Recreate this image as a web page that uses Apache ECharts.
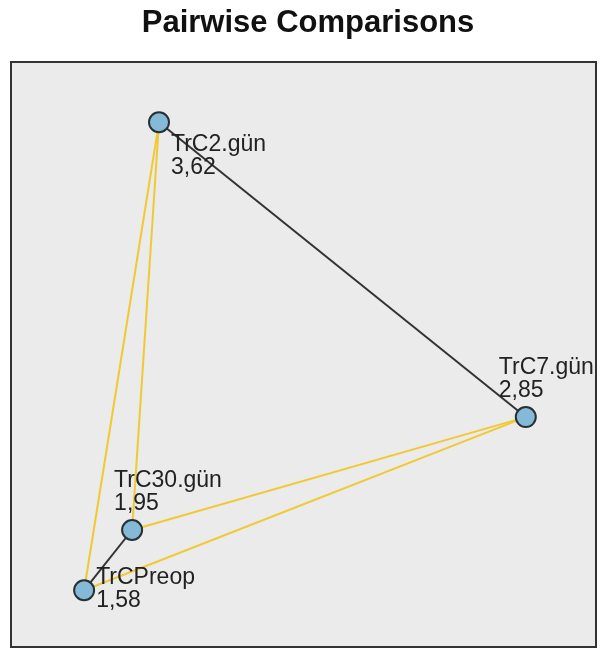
<!DOCTYPE html>
<html>
<head>
<meta charset="utf-8">
<script src="https://cdn.jsdelivr.net/npm/echarts@6/dist/echarts.min.js"></script>
<style>
  html, body { margin: 0; padding: 0; background: #fff; }
  #chart { width: 600px; height: 651px; }
</style>
</head>
<body>
<div id="chart"></div>
<script>
// nodes of the pairwise comparison graph (layout units 0..100)
const nodeNames = ["TrC2.gün", "TrC7.gün", "TrC30.gün", "TrCPreop"];
const meanRanks = [3.62, 2.85, 1.95, 1.58];
const nodeX = [25.3, 88.0, 20.7, 12.5];
const nodeY = [89.7, 39.3, 20.0, 9.7];

// edges: [source, target, significant]
const pairSources = [0, 2, 0, 0, 1, 1];
const pairTargets = [1, 3, 2, 3, 2, 3];
const pairSignificant = [false, false, true, true, true, true];

// label placement relative to symbol box (style only)
const labelPos = [[23, 22], [-16, -50], [-7, -50], [23, -13]];

const chart = echarts.init(document.getElementById("chart"));

let nodes = [];
for (let i = 0; i < nodeNames.length; i++) {
  nodes.push({
    name: nodeNames[i],
    value: [nodeX[i], nodeY[i]],
    rank: meanRanks[i],
    label: { position: labelPos[i] },
  });
}

let links = [];
for (let i = 0; i < pairSources.length; i++) {
  links.push({
    source: pairSources[i],
    target: pairTargets[i],
    lineStyle: {
      color: pairSignificant[i] ? "#f0c933" : "#333333",
      width: 2,
      opacity: 1,
    },
  });
}

const option = {
  animation: false,
  title: {
    text: "Pairwise Comparisons",
    left: 303,
    textAlign: "center",
    top: 3,
    textStyle: {
      fontFamily: "Liberation Sans",
      fontWeight: "bold",
      fontSize: 31,
      color: "#111",
    },
  },
  grid: {
    left: 11,
    right: 4,
    top: 62,
    bottom: 4,
    show: true,
    backgroundColor: "#ebebeb",
    borderColor: "#333",
    borderWidth: 2,
  },
  xAxis: { type: "value", min: 0, max: 100, show: false },
  yAxis: { type: "value", min: 0, max: 100, show: false },
  series: [
    {
      type: "graph",
      coordinateSystem: "cartesian2d",
      layout: "none",
      symbol: "circle",
      symbolSize: 20,
      itemStyle: {
        color: "#86b9d8",
        borderColor: "#263035",
        borderWidth: 2,
      },
      label: {
        show: true,
        align: "left",
        verticalAlign: "top",
        fontFamily: "Liberation Sans",
        fontSize: 23,
        lineHeight: 23,
        color: "#222",
        formatter: (p) => p.name + "\n" + p.data.rank.toFixed(2).replace(".", ","),
      },
      emphasis: { disabled: true },
      data: nodes,
      links: links,
    },
  ],
};

chart.setOption(option);
</script>
</body>
</html>
